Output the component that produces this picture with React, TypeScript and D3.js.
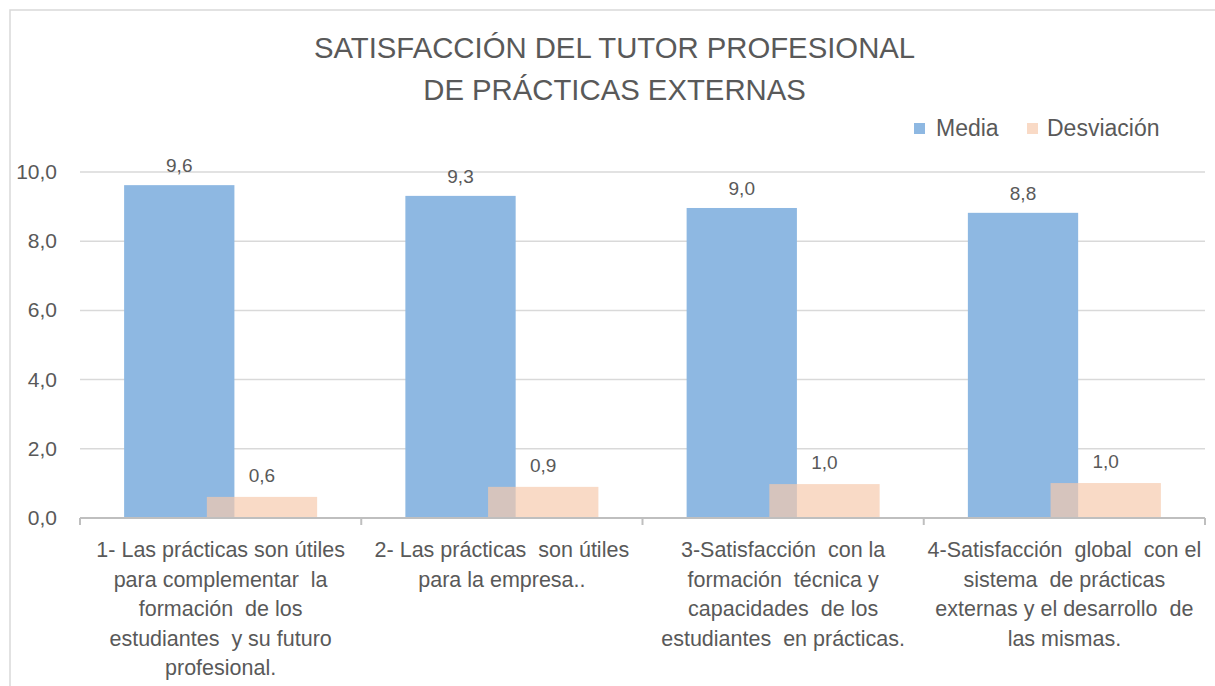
import React from "react";
import * as d3 from "d3";

const categories = [
  ["1- Las prácticas son útiles", "para complementar  la", "formación  de los", "estudiantes  y su futuro", "profesional."],
  ["2- Las prácticas  son útiles", "para la empresa.."],
  ["3-Satisfacción  con la", "formación  técnica y", "capacidades  de los", "estudiantes  en prácticas."],
  ["4-Satisfacción  global  con el", "sistema  de prácticas", "externas y el desarrollo  de", "las mismas."],
];
const media = [9.62, 9.31, 8.96, 8.82];
const desviacion = [0.61, 0.9, 0.98, 1.01];
const yTicks = [0, 2, 4, 6, 8, 10];
const seriesNames = ["Media", "Desviación"];
const titleLines = ["SATISFACCIÓN DEL TUTOR PROFESIONAL", "DE PRÁCTICAS EXTERNAS"];

const W = 1215;
const H = 686;
const plot = { left: 80, right: 1205, top: 172, bottom: 518 };
const BLUE = "#8EB8E2";
const PINK = "rgb(246,201,172)";
const PINK_OP = 0.69;
const TEXT = "#595959";
const FONT = "'Liberation Sans', Arial, sans-serif";

const fmt = (v: number) => d3.format(".1f")(v).replace(".", ",");

export default function App() {
  const x = d3
    .scaleBand<number>()
    .domain(d3.range(categories.length))
    .range([plot.left, plot.right])
    .paddingInner(0)
    .paddingOuter(0);
  const y = d3.scaleLinear().domain([0, 10]).range([plot.bottom, plot.top]);
  const bw = x.bandwidth();
  const overlap = 0.25;
  const gap = 0.8;
  const barW = bw / (2 - overlap + gap);
  const gapW = (barW * gap) / 2;

  return (
    <svg
      width={W}
      height={H}
      style={{ position: "absolute", left: 0, top: 0, background: "#fff" }}
      fontFamily={FONT}
    >
      <rect x={10} y={10} width={W + 20} height={H + 20} fill="#fff" stroke="#d9d9d9" strokeWidth={1.5} />
      {titleLines.map((t, i) => (
        <text key={i} x={614.5} y={58 + i * 42} textAnchor="middle" fontSize={29.3} fill={TEXT}>
          {t}
        </text>
      ))}
      {/* legend */}
      <rect x={914} y={123} width={11} height={11} fill={BLUE} />
      <text x={936} y={136} fontSize={23} fill={TEXT}>
        {seriesNames[0]}
      </text>
      <rect x={1027} y={123} width={11} height={11} fill={PINK} fillOpacity={PINK_OP} />
      <text x={1047} y={136} fontSize={23} fill={TEXT}>
        {seriesNames[1]}
      </text>
      {/* gridlines */}
      {yTicks.filter((t) => t > 0).map((t) => (
        <line key={t} x1={plot.left} x2={plot.right} y1={y(t)} y2={y(t)} stroke="#d9d9d9" strokeWidth={1.5} />
      ))}
      {yTicks.map((t) => (
        <text key={t} x={57} y={y(t) + 7} textAnchor="end" fontSize={21} fill={TEXT}>
          {fmt(t)}
        </text>
      ))}
      {/* bars */}
      {media.map((v, i) => {
        const x0 = (x(i) as number) + gapW;
        return (
          <g key={i}>
            <rect x={x0} y={y(v)} width={barW} height={y(0) - y(v)} fill={BLUE} />
            <text x={x0 + barW / 2} y={y(v) - 13} textAnchor="middle" fontSize={19} fill={TEXT}>
              {fmt(v)}
            </text>
          </g>
        );
      })}
      {desviacion.map((v, i) => {
        const x0 = (x(i) as number) + gapW + barW * (1 - overlap);
        return (
          <g key={i}>
            <rect x={x0} y={y(v)} width={barW} height={y(0) - y(v)} fill={PINK} fillOpacity={PINK_OP} />
            <text x={x0 + barW / 2} y={y(v) - 15} textAnchor="middle" fontSize={19} fill={TEXT}>
              {fmt(v)}
            </text>
          </g>
        );
      })}
      {/* axis */}
      <line x1={plot.left} x2={plot.right} y1={plot.bottom} y2={plot.bottom} stroke="#bfbfbf" strokeWidth={2} />
      {d3.range(categories.length + 1).map((i) => {
        const xx = plot.left + i * bw;
        return <line key={i} x1={xx} x2={xx} y1={plot.bottom} y2={plot.bottom + 7} stroke="#bfbfbf" strokeWidth={2} />;
      })}
      {categories.map((lines, i) => (
        <text key={i} textAnchor="middle" fontSize={21.5} fill={TEXT} style={{ whiteSpace: "pre" }}>
          {lines.map((l, j) => (
            <tspan key={j} x={(x(i) as number) + bw / 2} y={557 + j * 29.5}>
              {l}
            </tspan>
          ))}
        </text>
      ))}
    </svg>
  );
}
